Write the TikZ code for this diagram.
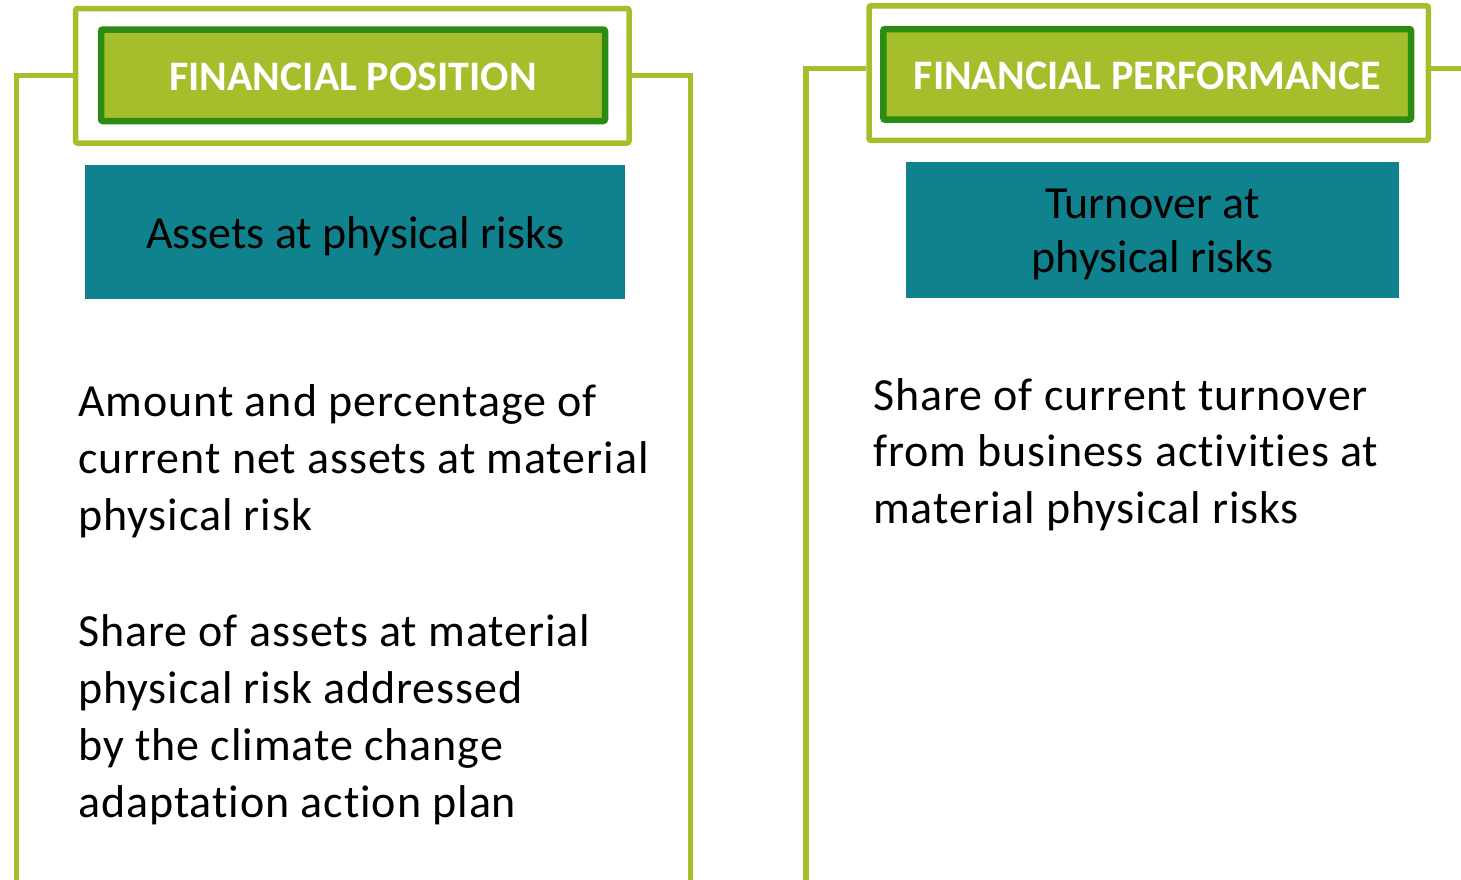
\documentclass[tikz,border=0pt]{standalone}
\usepackage{fontspec}
\setmainfont[Ligatures=NoCommon]{Carlito}
\newfontfamily\bodyfont[Ligatures=NoCommon,LetterSpace=2.0]{Carlito}
\definecolor{lgreen}{RGB}{165,190,44}
\definecolor{dgreen}{RGB}{44,139,18}
\definecolor{tealbox}{RGB}{16,130,141}
\tikzset{
  frame/.style={draw=lgreen, line width=5.5pt, rounded corners=2pt, minimum width=#1, inner sep=0pt, minimum height=134.5pt},
  headbox/.style={draw=dgreen, fill=lgreen, line width=6.5pt, rounded corners=2pt, inner sep=0pt},
  tbox/.style={fill=tealbox, inner sep=0pt},
  conn/.style={draw=lgreen, line width=5.5pt},
  headtxt/.style={text=white, font=\fontsize{42}{50}\selectfont\bfseries, inner sep=0pt, anchor=base},
  boxtxt/.style={text=black, font=\fontsize{46}{54}\selectfont, inner sep=0pt},
  bodytxt/.style={text=black, font=\bodyfont\fontsize{46}{56.7}\selectfont, inner sep=0pt, align=left, anchor=north west},
}
\begin{document}
\begin{tikzpicture}[x=1pt,y=-1pt]
\useasboundingbox (0,0) rectangle (1461,879);
% left panel
\node[frame=553.5pt] (frameL) at (352.25,75.75) {};
\node[headbox, minimum width=504pt, minimum height=91.5pt] (headL) at (353,75.25) {};
\node[headtxt] (headLtxt) at (353,90) {FINANCIAL POSITION};
\node[tbox, minimum width=540pt, minimum height=134pt] (tealL) at (355,232) {};
\node[boxtxt, anchor=base] (tealLtxt) at (355,248.3) {Assets at physical risks};
\node[bodytxt] (bodyL1) at (78,377) {\strut Amount and percentage of\\current net assets at material\\physical risk};
\node[bodytxt] (bodyL2) at (78,607) {\strut Share of assets at material\\physical risk addressed\\by the climate change\\adaptation action plan};
\coordinate (lLtop) at (16.5,75.5);
\coordinate (lLbot) at (16.5,885);
\coordinate (lRtop) at (690.3,75.5);
\coordinate (lRbot) at (690.3,885);
\draw[conn] (frameL.west |- lLtop) -- (lLtop) -- (lLbot);
\draw[conn] (frameL.east |- lRtop) -- (lRtop) -- (lRbot);
% right panel
\node[frame=559.3pt] (frameR) at (1148.65,73.05) {};
\node[headbox, minimum width=527.7pt, minimum height=90.7pt] (headR) at (1147.15,74.35) {};
\node[headtxt] (headRtxt) at (1147.5,89) {FINANCIAL PERFORMANCE};
\node[tbox, minimum width=493pt, minimum height=135.4pt] (tealR) at (1152.5,230) {};
\node[boxtxt, align=center, anchor=north] (tealRtxt) at (1152.5,180.2) {\strut Turnover at\\physical risks};
\node[bodytxt] (bodyR) at (873,370.3) {\strut Share of current turnover\\from business activities at\\material physical risks};
\coordinate (rLtop) at (806,68.7);
\coordinate (rLbot) at (806,885);
\coordinate (rRend) at (1465,68.7);
\draw[conn] (frameR.west |- rLtop) -- (rLtop) -- (rLbot);
\draw[conn] (frameR.east |- rRend) -- (rRend);
\end{tikzpicture}
\end{document}
